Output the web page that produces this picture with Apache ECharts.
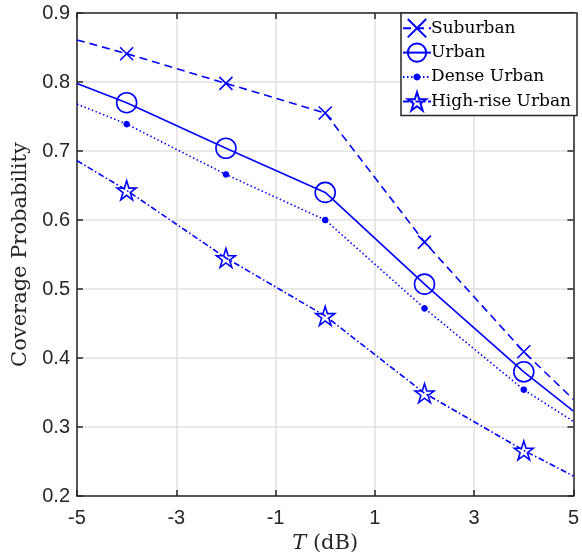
<!DOCTYPE html>
<html>
<head>
<meta charset="utf-8">
<script src="https://cdn.jsdelivr.net/npm/echarts@6/dist/echarts.min.js"></script>
<style>html,body{margin:0;padding:0;background:#fff}#c{width:582px;height:560px}</style>
</head>
<body>
<div id="c"></div>
<script>
// Data
const tValues = [-5, -4, -2, 0, 2, 4, 5];           // x positions (dB)
const markerAt = [false, true, true, true, true, true, false];
const suburban   = [0.861, 0.841, 0.798, 0.755, 0.568, 0.409, 0.340];
const urban      = [0.798, 0.770, 0.704, 0.640, 0.507, 0.380, 0.323];
const denseUrban = [0.768, 0.739, 0.666, 0.600, 0.472, 0.354, 0.308];
const highRise   = [0.686, 0.643, 0.545, 0.461, 0.349, 0.266, 0.229];
const seriesNames = ['Suburban', 'Urban', 'Dense Urban', 'High-rise Urban'];
const xTicks = [-5, -3, -1, 1, 3, 5];
const yTicks = [0.2, 0.3, 0.4, 0.5, 0.6, 0.7, 0.8, 0.9];

const BLUE = '#0000ff';
const AX = '#262626';
const crossPath = 'path://M0,0L10,10M10,0L0,10';
const starPath = 'path://M50,0L61.23,34.55L97.55,34.55L68.17,55.9L79.39,90.45L50,69.1L20.61,90.45L31.83,55.9L2.45,34.55L38.77,34.55Z';
// small dot (r=2.5) inside an 18x18 box, so the dot stays small in the legend too
const dotPath = (function () {
  let s = 'path://M0,0M18,18';
  for (let k = 0; k < 12; k++) {
    const a = k * Math.PI / 6;
    s += (k === 0 ? 'M' : 'L') + (9 + 2.5 * Math.cos(a)).toFixed(3) + ',' + (9 + 2.5 * Math.sin(a)).toFixed(3);
  }
  return s + 'Z';
})();

function build(vals) {
  return tValues.map((t, i) => markerAt[i] ? [t, vals[i]] : { value: [t, vals[i]], symbol: 'none' });
}

const chart = echarts.init(document.getElementById('c'), null, { renderer: 'canvas' });
const grid = { left: 77, right: 5, top: 13, bottom: 64 };
const baseLabel = { fontFamily: 'Liberation Sans', fontSize: 20, color: AX };

function mkSeries(name, vals, symbol, size, lineType, fillColor) {
  return {
    name: name, type: 'line', data: build(vals),
    symbol: symbol, symbolSize: size, showAllSymbol: true,
    lineStyle: { color: BLUE, width: 1.6, type: lineType },
    itemStyle: { color: fillColor, borderColor: BLUE, borderWidth: 1.6 },
    emphasis: { disabled: true }, animation: false, z: 3
  };
}

chart.setOption({
  animation: false,
  grid: grid,
  legend: {
    orient: 'vertical', left: 401, top: 13, width: 176,
    backgroundColor: '#fff', borderColor: '#262626', borderWidth: 1.5,
    padding: [5, 6, 4, 1], itemGap: 4, itemWidth: 28, itemHeight: 23,
    textStyle: { fontFamily: 'DejaVu Serif', fontSize: 17, color: '#000', padding: [0, 0, 0, -5] },
    data: seriesNames
  },
  xAxis: [{
    type: 'value', min: -5, max: 5, interval: 2,
    axisLine: { show: true, onZero: false, lineStyle: { color: AX, width: 1.5 } },
    axisTick: { show: true, inside: true, length: 6, lineStyle: { color: AX, width: 1.5 } },
    axisLabel: Object.assign({ margin: 12, formatter: v => xTicks.includes(v) ? String(v) : '' }, baseLabel),
    splitLine: { show: true, lineStyle: { color: '#e0e0e0', width: 1.5 } },
    name: '{i|T} (dB)', nameLocation: 'middle', nameGap: 34,
    nameTextStyle: { fontFamily: 'DejaVu Serif', fontSize: 21, color: AX,
      rich: { i: { fontFamily: 'DejaVu Serif', fontStyle: 'italic', fontSize: 21, color: AX } } }
  }, {
    type: 'value', position: 'top', min: -5, max: 5, interval: 2,
    axisLine: { show: true, onZero: false, lineStyle: { color: AX, width: 1.5 } },
    axisTick: { show: true, inside: true, length: 6, lineStyle: { color: AX, width: 1.5 } },
    axisLabel: { show: false }, splitLine: { show: false }
  }],
  yAxis: [{
    type: 'value', min: 0.2, max: 0.9, interval: 0.1,
    axisLine: { show: true, onZero: false, lineStyle: { color: AX, width: 1.5 } },
    axisTick: { show: true, inside: true, length: 6, lineStyle: { color: AX, width: 1.5 } },
    axisLabel: Object.assign({ margin: 7, formatter: v => v.toFixed(1) }, baseLabel),
    splitLine: { show: true, lineStyle: { color: '#e0e0e0', width: 1.5 } },
    name: 'Coverage Probability', nameLocation: 'middle', nameGap: 45,
    nameTextStyle: { fontFamily: 'DejaVu Serif', fontSize: 21, color: AX }
  }, {
    type: 'value', position: 'right', min: 0.2, max: 0.9, interval: 0.1,
    axisLine: { show: true, onZero: false, lineStyle: { color: AX, width: 1.5 } },
    axisTick: { show: true, inside: true, length: 6, lineStyle: { color: AX, width: 1.5 } },
    axisLabel: { show: false }, splitLine: { show: false }
  }],
  series: [
    mkSeries(seriesNames[0], suburban, crossPath, 13, [8, 5], 'rgba(0,0,0,0)'),
    mkSeries(seriesNames[1], urban, 'circle', 20, 'solid', 'rgba(0,0,0,0)'),
    mkSeries(seriesNames[2], denseUrban, dotPath, 18, [1.5, 2.5], BLUE),
    mkSeries(seriesNames[3], highRise, starPath, 19, [6, 2.5, 1.5, 2.5], 'rgba(0,0,0,0)')
  ]
});
</script>
</body>
</html>
